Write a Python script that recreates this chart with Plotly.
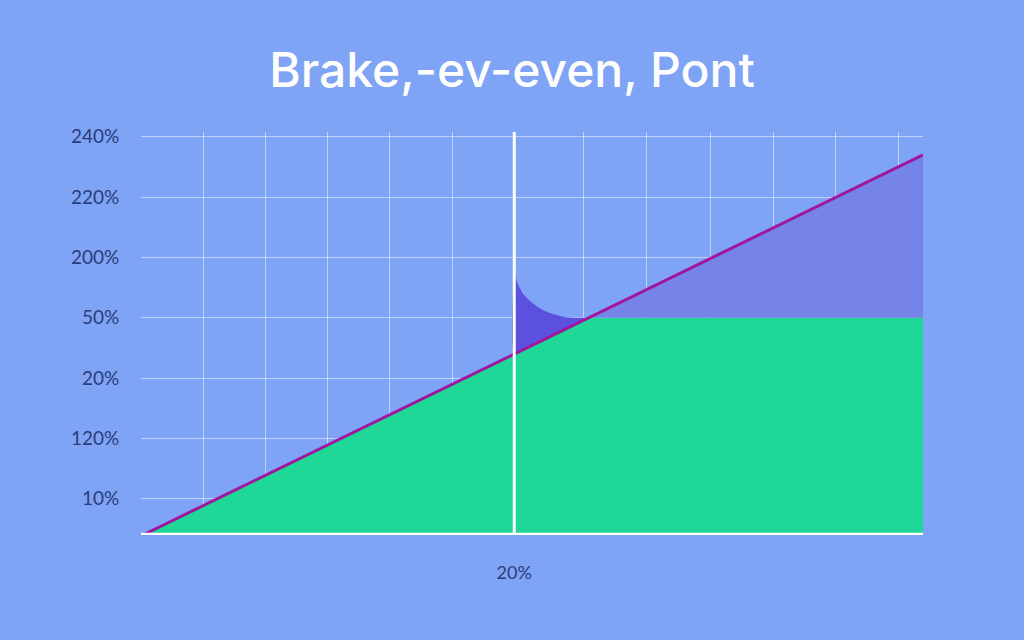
import plotly.graph_objects as go

# ---- data (chart units) ----
cost_x = [0.03, 12.57]
cost_y = [0.40, 6.70]

green_x = [0.03, 7.18, 12.57]
green_y = [0.40, 4.00, 4.00]

gain_x = [7.18, 12.57, 12.57, 7.18]
gain_y = [4.00, 6.70, 4.00, 4.00]

bump_x = [6.00, 6.05, 6.13, 6.25, 6.41, 6.57, 6.82, 6.98, 7.18, 6.00, 6.00]
bump_y = [4.79, 4.58, 4.41, 4.28, 4.16, 4.08, 4.01, 4.00, 4.00, 3.41, 4.79]

breakeven_x = 6.0

y_tickvals = [1, 2, 3, 4, 5, 6, 7]
y_ticktext = ["10%", "120%", "20%", "50%", "200%", "220%", "240%"]

x_gridvals = [0, 1, 2, 3, 4, 5, 7.12, 8.12, 9.15, 10.16, 11.17, 12.17]
x_tickvals = [6]
x_ticktext = ["20%"]

BG = "#7fa3f5"
TXT = "#2a3d7c"

fig = go.Figure()

fig.add_trace(go.Scatter(x=green_x, y=green_y, mode="lines", line=dict(width=0),
                         fill="tozeroy", fillcolor="#1fd898", hoverinfo="skip", showlegend=False))
fig.add_trace(go.Scatter(x=gain_x, y=gain_y, mode="lines", line=dict(width=0),
                         fill="toself", fillcolor="#7683e8", hoverinfo="skip", showlegend=False))
fig.add_trace(go.Scatter(x=bump_x, y=bump_y, mode="lines", line=dict(width=0, shape="spline", smoothing=0.3),
                         fill="toself", fillcolor="#5c50de", hoverinfo="skip", showlegend=False))
fig.add_trace(go.Scatter(x=cost_x, y=cost_y, mode="lines", line=dict(color="#a0169c", width=3),
                         hoverinfo="skip", showlegend=False))

# break-even vertical line and base axis line
fig.add_trace(go.Scatter(x=[breakeven_x, breakeven_x], y=[0.4, 7.08], mode="lines",
                         line=dict(color="white", width=3), hoverinfo="skip", showlegend=False))
fig.add_trace(go.Scatter(x=[0, 12.57], y=[0.4, 0.4], mode="lines",
                         line=dict(color="white", width=4.5), hoverinfo="skip", showlegend=False, cliponaxis=False))

fig.update_layout(
    width=1024, height=640,
    margin=dict(l=141, r=101, t=132, b=105),
    paper_bgcolor=BG, plot_bgcolor=BG,
    title=dict(text="Brake,-ev-even, Pont", x=0.5, xanchor="center", y=1 - 70 / 640, yanchor="middle",
               font=dict(family="Inter", size=48, color="white", weight=500)),
    xaxis=dict(range=[0, 12.57], showgrid=False, zeroline=False, showline=False,
               tickmode="array", tickvals=x_tickvals, ticktext=x_ticktext,
               ticks="outside", ticklen=21, tickcolor="rgba(0,0,0,0)",
               tickfont=dict(family="Lato", size=18, color=TXT),
               minor=dict(tickmode="array", tickvals=x_gridvals, showgrid=True,
                          gridcolor="rgba(255,255,255,0.5)", gridwidth=1, ticks="")),
    yaxis=dict(range=[0.4, 7.08], showgrid=True, gridcolor="rgba(255,255,255,0.5)", gridwidth=1,
               zeroline=False, showline=False,
               tickmode="array", tickvals=y_tickvals, ticktext=y_ticktext,
               ticks="outside", ticklen=17, tickcolor="rgba(0,0,0,0)",
               tickfont=dict(family="Lato", size=19, color=TXT)),
)

fig.write_html("out.html", config={"displayModeBar": False})

with open("out.html", "r", encoding="utf-8") as f:
    html = f.read()
html = html.replace("<head>", "<head><style>html,body{margin:0;padding:0;overflow:hidden;background:%s;}</style>" % BG, 1)
with open("out.html", "w", encoding="utf-8") as f:
    f.write(html)
